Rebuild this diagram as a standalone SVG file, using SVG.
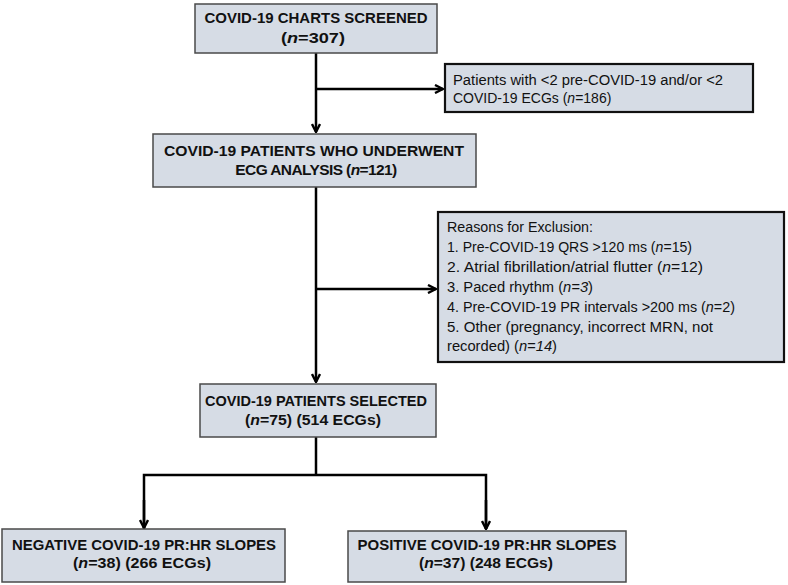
<svg xmlns="http://www.w3.org/2000/svg" width="788" height="585" viewBox="0 0 788 585">
<defs>
<style>
.main{fill:#d6dce5;stroke:#4a4a4a;stroke-width:1.5}
.side{fill:#d6dce5;stroke:#111;stroke-width:2.2}
.b{font-family:"Liberation Sans",Arial,sans-serif;font-weight:bold;font-size:15.5px;fill:#111;text-anchor:middle}
.r{font-family:"Liberation Sans",Arial,sans-serif;font-size:14px;fill:#111}
.i{font-style:italic}
.c{fill:none;stroke:#000;stroke-width:2.5}
</style>
<marker id="ah" markerWidth="10" markerHeight="10" viewBox="0 0 10 10" refX="9" refY="5" orient="auto" markerUnits="userSpaceOnUse">
<path d="M1,1 L9,5 L1,9" fill="none" stroke="#000" stroke-width="2.4"/>
</marker>
</defs>
<g id="connectors">
<line class="c" x1="316" y1="53" x2="316" y2="132" marker-end="url(#ah)"/>
<line class="c" x1="316" y1="89" x2="443" y2="89" marker-end="url(#ah)"/>
<line class="c" x1="316" y1="187" x2="316" y2="382" marker-end="url(#ah)"/>
<line class="c" x1="316" y1="289" x2="436" y2="289" marker-end="url(#ah)"/>
<line class="c" x1="316" y1="437" x2="316" y2="475"/>
<polyline class="c" points="144,529 144,475 486,475 486,529"/>
<line class="c" x1="144" y1="500" x2="144" y2="528" marker-end="url(#ah)"/>
<line class="c" x1="486" y1="500" x2="486" y2="529" marker-end="url(#ah)"/>
</g>
<g id="screened">
<rect class="main" x="195" y="4" width="242" height="49"/>
<text class="b" x="316" y="23" textLength="223" lengthAdjust="spacingAndGlyphs">COVID-19 CHARTS SCREENED</text>
<text class="b" x="313" y="43" textLength="64" lengthAdjust="spacingAndGlyphs">(<tspan class="i">n</tspan>=307)</text>
</g>
<g id="excluded1">
<rect class="side" x="445" y="64" width="308" height="48"/>
<text class="r" x="453" y="85" textLength="270" lengthAdjust="spacingAndGlyphs">Patients with &lt;2 pre-COVID-19 and/or &lt;2</text>
<text class="r" x="453" y="103">COVID-19 ECGs (<tspan class="i">n</tspan>=186)</text>
</g>
<g id="analysis">
<rect class="main" x="153" y="134" width="323" height="53"/>
<text class="b" x="314" y="156" textLength="300" lengthAdjust="spacingAndGlyphs">COVID-19 PATIENTS WHO UNDERWENT</text>
<text class="b" x="316" y="175" letter-spacing="-0.6">ECG ANALYSIS (<tspan class="i">n</tspan>=121)</text>
</g>
<g id="excluded2">
<rect class="side" x="438" y="212" width="346" height="150"/>
<text class="r" x="447" y="232" textLength="146" lengthAdjust="spacingAndGlyphs">Reasons for Exclusion:</text>
<text class="r" x="447" y="252" textLength="245" lengthAdjust="spacingAndGlyphs">1. Pre-COVID-19 QRS &gt;120 ms (<tspan class="i">n</tspan>=15)</text>
<text class="r" x="447" y="272" textLength="256" lengthAdjust="spacingAndGlyphs">2. Atrial fibrillation/atrial flutter (<tspan class="i">n</tspan>=12)</text>
<text class="r" x="447" y="292" textLength="146" lengthAdjust="spacingAndGlyphs">3. Paced rhythm (<tspan class="i">n=3</tspan>)</text>
<text class="r" x="447" y="312" textLength="288" lengthAdjust="spacingAndGlyphs">4. Pre-COVID-19 PR intervals &gt;200 ms (<tspan class="i">n</tspan>=2)</text>
<text class="r" x="447" y="332" textLength="266" lengthAdjust="spacingAndGlyphs">5. Other (pregnancy, incorrect MRN, not</text>
<text class="r" x="447" y="351" textLength="110" lengthAdjust="spacingAndGlyphs">recorded) (<tspan class="i">n=14</tspan>)</text>
</g>
<g id="selected">
<rect class="main" x="200" y="384" width="236" height="53"/>
<text class="b" x="316" y="406" textLength="222" lengthAdjust="spacingAndGlyphs">COVID-19 PATIENTS SELECTED</text>
<text class="b" x="313" y="425" textLength="136" lengthAdjust="spacingAndGlyphs">(<tspan class="i">n</tspan>=75) (514 ECGs)</text>
</g>
<g id="negative">
<rect class="main" x="2" y="529" width="283" height="53"/>
<text class="b" x="144" y="550" textLength="264" lengthAdjust="spacingAndGlyphs">NEGATIVE COVID-19 PR:HR SLOPES</text>
<text class="b" x="142" y="568" textLength="138" lengthAdjust="spacingAndGlyphs">(<tspan class="i">n</tspan>=38) (266 ECGs)</text>
</g>
<g id="positive">
<rect class="main" x="348" y="531" width="278" height="51"/>
<text class="b" x="487" y="550" textLength="259" lengthAdjust="spacingAndGlyphs">POSITIVE COVID-19 PR:HR SLOPES</text>
<text class="b" x="486" y="568" textLength="134" lengthAdjust="spacingAndGlyphs">(<tspan class="i">n</tspan>=37) (248 ECGs)</text>
</g>
</svg>
